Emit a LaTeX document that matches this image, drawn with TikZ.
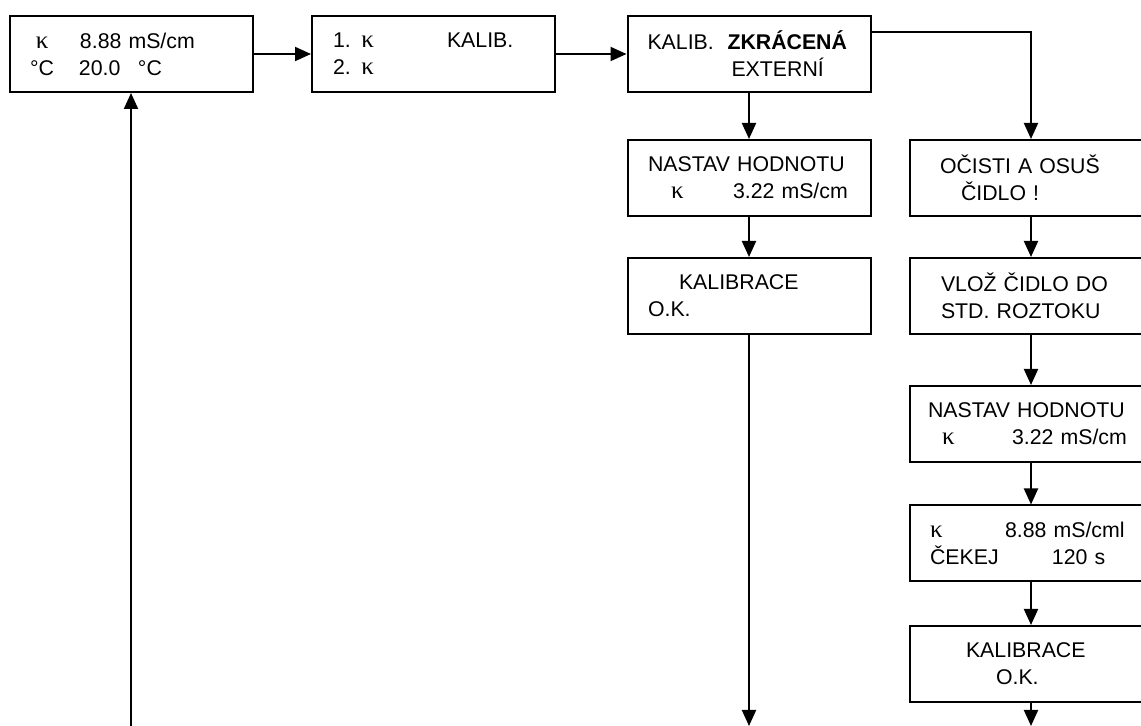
\documentclass[tikz,border=0pt]{standalone}
\usepackage{fontspec}
\setmainfont{Liberation Sans}
\newfontfamily\kapfont{Liberation Serif}
\usetikzlibrary{arrows.meta}
\newdimen\pxu
\pxu=0.5pt
\newcommand\lcd[2]{\makebox[0pt][l]{\hspace*{#1\pxu}#2}}
\newcommand\kap{{\kapfont\fontsize{12.5pt}{13.5pt}\selectfont κ}}
\tikzset{screen/.style = {draw, line width=1pt, minimum width=121.5pt, minimum height=38pt,
                          text width=121.5pt, inner xsep=0pt, align=left,
                          font=\fontsize{10.65pt}{13.5pt}\selectfont},
         flow/.style = {line width=1pt, -{Triangle[length=8pt, width=7pt]}}}

\begin{document}
\begin{tikzpicture}[x=0.5pt, y=-0.5pt]
  \clip (0,0) rectangle (1141,726);

  % top row
  \node [screen] (disp) at (131,54) {\lcd{26.5}{\kap}\lcd{70.5}{8.88 mS/cm}\\\lcd{20.5}{°C}\lcd{69.5}{20.0}\lcd{128.5}{°C}};
  \node [screen] (menu) at (433.5,54) {\lcd{21}{1. \kap}\lcd{135}{KALIB.}\\\lcd{21}{2. \kap}};
  \node [screen] (kalib) at (749,54) {\lcd{20}{KALIB.}\lcd{100}{\textbf{ZKRÁCENÁ}}\\\lcd{104}{EXTERNÍ}};

  % left branch
  \node [screen] (nastA) at (749,178) {\lcd{20.5}{NASTAV HODNOTU}\\\lcd{43.5}{\kap}\lcd{105.5}{3.22 mS/cm}};
  \node [screen] (okA) at (749,296) {\lcd{51.5}{KALIBRACE}\\\lcd{20.5}{O.K.}};

  % right branch
  \node [screen] (cist) at (1031,178) {\lcd{30.5}{OČISTI A OSUŠ}\\\lcd{51.5}{ČIDLO !}};
  \node [screen] (vloz) at (1031,296) {\lcd{31.5}{VLOŽ ČIDLO DO}\\\lcd{31.5}{STD. ROZTOKU}};
  \node [screen] (nastB) at (1031,424) {\lcd{18.5}{NASTAV HODNOTU}\\\lcd{32.5}{\kap}\lcd{102.5}{3.22 mS/cm}};
  \node [screen] (cekej) at (1031,543.5) {\lcd{20.5}{\kap}\lcd{95.5}{8.88 mS/cml}\\\lcd{20.5}{ČEKEJ}\lcd{142.5}{120 s}};
  \node [screen] (okB) at (1031,664) {\lcd{56.5}{KALIBRACE}\\\lcd{86.5}{O.K.}};

  \coordinate (startL) at (131,726);
  \coordinate (endA) at (749,726);
  \coordinate (endB) at (1031,726);

  \draw [flow] (disp) -- (menu);
  \draw [flow] (menu) -- (kalib);
  \draw [flow] (kalib) -- (nastA);
  \draw [flow] ([yshift=11pt]kalib.east) -| (cist);
  \draw [flow] (nastA) -- (okA);
  \draw [flow] (okA) -- (endA);
  \foreach \a/\b in {cist/vloz, vloz/nastB, nastB/cekej, cekej/okB, okB/endB}
    \draw [flow] (\a) -- (\b);
  \draw [flow] (startL) -- (disp);
\end{tikzpicture}
\end{document}
